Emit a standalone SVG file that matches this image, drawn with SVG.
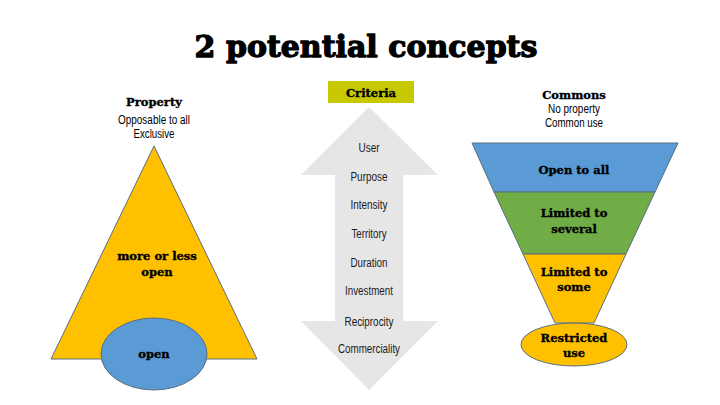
<svg xmlns="http://www.w3.org/2000/svg" width="720" height="405" viewBox="0 0 720 405">
<style>
.title{font-family:"DejaVu Serif","Liberation Serif",serif;font-weight:bold;font-size:30px;fill:#000;stroke:#000;stroke-width:1.3;stroke-linejoin:round}
.hd{font-family:"DejaVu Serif","Liberation Serif",serif;font-weight:bold;font-size:11.5px;fill:#000;stroke:#000;stroke-width:0.35;text-anchor:middle}
.lb{font-family:"DejaVu Serif","Liberation Serif",serif;font-weight:bold;font-size:11.5px;fill:#000;stroke:#000;stroke-width:0.35;text-anchor:middle}
.sm{font-family:"Liberation Sans Narrow","Liberation Sans",sans-serif;font-size:12px;fill:#000;text-anchor:middle}
.cr{font-family:"Liberation Sans Narrow","Liberation Sans",sans-serif;font-size:12px;fill:#1a1a1a;text-anchor:middle}
.sh{stroke:#5a6e7e;stroke-width:1}
</style>
<rect width="720" height="405" fill="#fff"/>
<text class="title" x="366" y="57" text-anchor="middle">2 potential concepts</text>

<g id="property">
<text class="hd" x="154" y="106">Property</text>
<text class="sm" x="154" y="124" textLength="72" lengthAdjust="spacingAndGlyphs">Opposable to all</text>
<text class="sm" x="154" y="138" textLength="41" lengthAdjust="spacingAndGlyphs">Exclusive</text>
<polygon class="sh" points="154,146 51,359 257,359" fill="#FFC000" stroke="#7d7d60"/>
<text class="lb" x="157" y="260">more or less</text>
<text class="lb" x="157" y="276">open</text>
</g>
<g id="open">
<ellipse class="sh" cx="154" cy="354" rx="53" ry="36" fill="#5B9BD5"/>
<text class="lb" x="154" y="358">open</text>
</g>

<g id="criteria">
<rect x="328" y="81" width="86" height="22" fill="#C8C800"/>
<text class="hd" x="371" y="97">Criteria</text>
</g>
<g id="arrow">
<polygon points="369,107 438,175 403,175 403,321 438,321 369,390 301,321 335,321 335,175 301,175" fill="#E7E6E6"/>
<text class="cr" x="369" y="152" textLength="21" lengthAdjust="spacingAndGlyphs">User</text>
<text class="cr" x="369" y="181" textLength="37" lengthAdjust="spacingAndGlyphs">Purpose</text>
<text class="cr" x="369" y="209" textLength="37" lengthAdjust="spacingAndGlyphs">Intensity</text>
<text class="cr" x="369" y="238" textLength="35" lengthAdjust="spacingAndGlyphs">Territory</text>
<text class="cr" x="369" y="267" textLength="37" lengthAdjust="spacingAndGlyphs">Duration</text>
<text class="cr" x="369" y="295" textLength="48" lengthAdjust="spacingAndGlyphs">Investment</text>
<text class="cr" x="369" y="326" textLength="49" lengthAdjust="spacingAndGlyphs">Reciprocity</text>
<text class="cr" x="369" y="353" textLength="62" lengthAdjust="spacingAndGlyphs">Commerciality</text>
</g>

<g id="commons">
<text class="hd" x="574" y="99">Commons</text>
<text class="sm" x="574" y="113" textLength="52" lengthAdjust="spacingAndGlyphs">No property</text>
<text class="sm" x="574" y="127" textLength="58" lengthAdjust="spacingAndGlyphs">Common use</text>
</g>
<g id="open-to-all">
<polygon class="sh" points="472,143 678,143 655,192 494,192" fill="#5B9BD5"/>
<text class="lb" x="574" y="174">Open to all</text>
</g>
<g id="limited-several">
<polygon class="sh" points="494,192 655,192 626,254 523,254" fill="#70AD47"/>
<text class="lb" x="574" y="217">Limited to</text>
<text class="lb" x="574" y="233">several</text>
</g>
<g id="limited-some">
<polygon class="sh" points="523,254 626,254 594,323 555,323" fill="#FFC000"/>
<text class="lb" x="574" y="276">Limited to</text>
<text class="lb" x="574" y="291">some</text>
</g>
<g id="restricted">
<ellipse class="sh" cx="574" cy="344.5" rx="53" ry="21.5" fill="#FFC000"/>
<text class="lb" x="574" y="342">Restricted</text>
<text class="lb" x="574" y="357">use</text>
</g>
</svg>
